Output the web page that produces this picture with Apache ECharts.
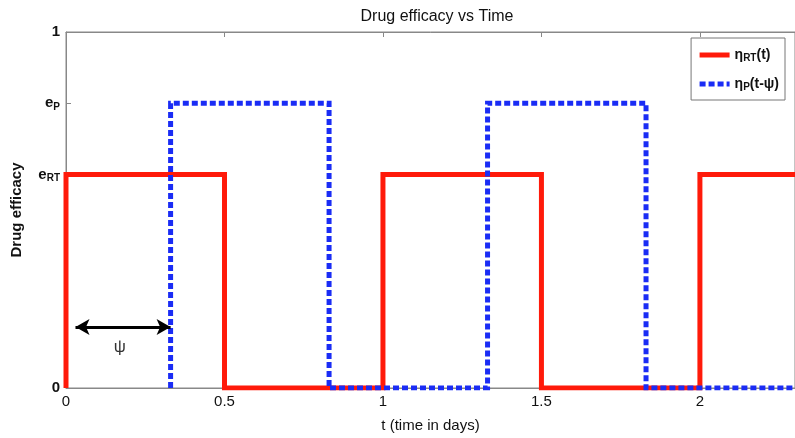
<!DOCTYPE html>
<html>
<head>
<meta charset="utf-8">
<script src="https://cdn.jsdelivr.net/npm/echarts@6/dist/echarts.min.js"></script>
<style>
  html, body { margin: 0; padding: 0; background: #fff; }
  #chart { width: 795px; height: 438px; }
</style>
</head>
<body>
<div id="chart"></div>
<script>
// eta_RT(t): step pulses
var rtTime = [0, 0, 0.5, 0.5, 1, 1, 1.5, 1.5, 2, 2, 2.3];
var rtValue = [0, 0.6, 0.6, 0, 0, 0.6, 0.6, 0, 0, 0.6, 0.6];
// eta_P(t - psi): shifted pulses
var pTime = [0.33, 0.33, 0.83, 0.83, 1.33, 1.33, 1.83, 1.83, 2.3];
var pValue = [0, 0.8, 0.8, 0, 0, 0.8, 0.8, 0, 0];
// psi arrow and label
var psiArrow = [[0.03, 0.171], [0.33, 0.171]];
var psiLabel = [[0.17, 0.114]];
var xTicks = [0, 0.5, 1, 1.5, 2];
var yTicks = [0, 0.6, 0.8, 1];
var yTickNames = { 0: "{b|0}", 0.6: "{b|e}{s|RT}", 0.8: "{b|e}{s|P}", 1: "{b|1}" };

function zip(a, b) {
  var out = [];
  for (var i = 0; i < a.length; i++) out.push([a[i], b[i]]);
  return out;
}

var font = "Liberation Sans";
var chart = echarts.init(document.getElementById("chart"));
chart.setOption({
  animation: false,
  textStyle: { fontFamily: font },
  title: {
    text: "Drug efficacy vs Time",
    left: 432, top: 4, textAlign: "center",
    textStyle: { fontFamily: font, fontSize: 16, fontWeight: "normal", color: "#111" }
  },
  grid: { left: 66, right: -3, top: 32, bottom: 47, show: true, borderColor: "#888", borderWidth: 1 },
  legend: {
    right: 10, top: 38, orient: "vertical", itemWidth: 30, itemHeight: 10, itemGap: 14,
    borderColor: "#777", borderWidth: 1, padding: [10, 6, 8, 6], backgroundColor: "#fff",
    itemStyle: { opacity: 0 },
    lineStyle: { width: 5 },
    data: ["rt", "p"],
    formatter: function (n) {
      return n === "rt" ? "{b|η}{s|RT}{b|(t)}" : "{b|η}{s|P}{b|(t-ψ)}";
    },
    textStyle: {
      rich: {
        b: { fontFamily: font, fontSize: 14, fontWeight: "bold", color: "#111" },
        s: { fontFamily: font, fontSize: 10, fontWeight: "bold", color: "#111", verticalAlign: "bottom", padding: [6, 0, 0, 0] }
      }
    }
  },
  xAxis: [{
    type: "value", min: 0, max: 2.3,
    name: "t (time in days)", nameLocation: "middle", nameGap: 30,
    nameTextStyle: { fontFamily: font, fontSize: 15, color: "#111" },
    axisLine: { show: true, lineStyle: { color: "#888" } },
    axisTick: { inside: true, length: 5, customValues: xTicks, lineStyle: { color: "#888" } },
    axisLabel: { customValues: xTicks, fontFamily: font, fontSize: 15, color: "#111", margin: 6 },
    splitLine: { show: false }
  }, {
    type: "value", min: 0, max: 2.3, position: "top",
    axisLine: { show: true, lineStyle: { color: "#888" } },
    axisTick: { inside: true, length: 5, customValues: xTicks, lineStyle: { color: "#888" } },
    axisLabel: { show: false },
    splitLine: { show: false }
  }],
  yAxis: {
    type: "value", min: 0, max: 1,
    name: "Drug efficacy", nameLocation: "middle", nameGap: 42,
    nameTextStyle: { fontFamily: font, fontSize: 15, fontWeight: "bold", color: "#111" },
    axisLine: { show: true, lineStyle: { color: "#888" } },
    axisTick: { inside: true, length: 5, customValues: yTicks, lineStyle: { color: "#888" } },
    axisLabel: {
      customValues: yTicks, margin: 6,
      formatter: function (v) { return yTickNames[v]; },
      rich: {
        b: { fontFamily: font, fontSize: 15, fontWeight: "bold", color: "#111" },
        s: { fontFamily: font, fontSize: 10, fontWeight: "bold", color: "#111", verticalAlign: "bottom", padding: [8, 0, 0, 0] }
      }
    },
    splitLine: { show: false }
  },
  series: [{
    name: "rt", type: "line", symbol: "none", clip: true,
    data: zip(rtTime, rtValue),
    lineStyle: { color: "#ff1a0a", width: 5, join: "miter" },
    itemStyle: { color: "#ff1a0a" },
    z: 2
  }, {
    name: "p", type: "line", symbol: "none", clip: true,
    data: zip(pTime, pValue),
    lineStyle: { color: "#1a2cf5", width: 5, type: [6, 3], join: "miter" },
    itemStyle: { color: "#1a2cf5" },
    z: 3
  }, {
    name: "psi", type: "line", symbol: "none", data: [],
    markLine: {
      silent: true, symbol: ["arrow", "arrow"], symbolSize: [12, 14],
      lineStyle: { color: "#000", width: 3, type: "solid" },
      label: { show: false },
      data: [[{ coord: psiArrow[0] }, { coord: psiArrow[1] }]]
    }
  }, {
    name: "psiLabel", type: "scatter", symbolSize: 0, data: psiLabel,
    label: { show: true, formatter: "ψ", position: "inside", fontFamily: font, fontSize: 17, color: "#000" }
  }]
});
</script>
</body>
</html>
